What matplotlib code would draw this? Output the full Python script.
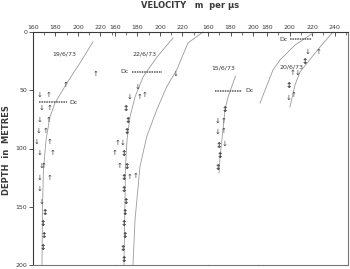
import matplotlib
matplotlib.use("Agg")
import matplotlib.pyplot as plt

# ---------------- data (velocity m/us, depth m) ----------------
dates = ["19/6/73", "22/6/73", "15/6/73", "20/6/73"]

# segment velocity ranges of the composite top scale
seg_xlim = [(160, 233), (160, 242.7), (160, 204.4), (172, 252)]

# theoretical curves
c1_v = [213.3, 201.8, 190.2, 179.6, 175.1, 171.6, 169.3, 168.4, 168.0]
c1_d = [8.6, 26.6, 43.8, 60.9, 72.9, 92.7, 118.4, 152.7, 200]
c2a_v = [211.6, 197.3, 184.9, 177.8, 173.3, 170.7, 169.3, 168.9, 168.0]
c2a_d = [5.1, 21.5, 38.6, 55.8, 72.9, 92.7, 115.8, 144.1, 200]
c2b_v = [238.2, 224.9, 214.8, 206.0, 197.1, 188.2, 182.2, 177.8, 176.0]
c2b_d = [0, 9.4, 32.6, 46.9, 66.9, 89.8, 115.6, 161.3, 200]
c3_v = [184.4, 177.8, 175.1, 173.3, 170.7, 169.8]
c3_d = [37.8, 55.8, 66.9, 84.0, 107.2, 121.0]
c4a_v = [220.9, 204.9, 191.6, 185.3, 173.8]
c4a_d = [0.9, 11.2, 24.0, 32.6, 61.0]
c4b_v = [238.7, 227.1, 216.4, 209.3, 204.9, 200.4]
c4b_d = [0, 12.9, 25.7, 34.3, 45.5, 64.4]

# measured points: down arrows, up arrows, double arrows
p1_dn_v = [165.6, 167.7, 166.2, 164.7, 162.7, 166.2, 167.7, 166.2, 166.2, 167.7]
p1_dn_d = [54, 65, 75.5, 85, 94, 104, 115, 125, 135, 145.6]
p1_up_v = [216, 189.3, 173.6, 174.5, 173.6, 170.7, 174.5, 177.5, 169.0, 174.5]
p1_up_d = [36, 45.5, 54, 65, 75.5, 85, 94, 104, 115, 125]
p1_bo_v = [170.7, 168.6, 169.2, 168.6]
p1_bo_d = [155, 164, 175, 185]

p2_dn_v = [214.2, 180.2, 172.7, 167.0]
p2_dn_d = [36, 46.8, 55.5, 95]
p2_up_v = [181.6, 186.0, 162.0, 160.0, 164.4, 173.3, 177.8]
p2_up_d = [55.5, 54.5, 95, 104, 115, 124.4, 124]
p2_bo_v = [169.5, 171.1, 170.4, 168.0, 170.4, 167.4, 168.0, 169.8, 168.9, 167.4, 168.9, 166.8, 168.0]
p2_bo_d = [66, 75.8, 85, 104, 115.6, 125, 135.6, 145.6, 155, 164.7, 175, 185.6, 195.6]

p3_dn_v = [168.6, 168.6, 174.8]
p3_dn_d = [76.1, 85.5, 96]
p3_up_v = [173.6, 173.6]
p3_up_d = [76.1, 84.7]
p3_bo_v = [175.1, 169.6, 170.7, 168.3]
p3_bo_d = [66.3, 97, 106.4, 116]

p4_dn_v = [216.2, 207.5, 198.9]
p4_dn_d = [16.9, 35.4, 56.9]
p4_up_v = [226.2, 202.5, 203.4]
p4_up_d = [16.9, 35.4, 54]
p4_bo_v = [213.8, 198.9]
p4_bo_d = [25.5, 45.5]

# critical depth Dc: depth, velocity span
dc_depth = [60.3, 34.0, 50.6, 6.3]
dc_v0 = [165.6, 175.0, 166.2, 200.4]
dc_v1 = [189.9, 201.6, 190.0, 219.7]

y_ticks = [0, 50, 100, 150, 200]

# ---------------- figure ----------------
W, H = 350, 269
fig = plt.figure(figsize=(W / 100, H / 100), dpi=100)
fig.patch.set_facecolor("white")

seg_px = [(33, 115), (115, 208), (208, 258), (258, 348)]
bot = 1 - 265 / H
top = 1 - 32 / H
axes = []
for i, (x0, x1) in enumerate(seg_px):
    ax = fig.add_axes([x0 / W, bot, (x1 - x0) / W, top - bot])
    ax.set_xlim(*seg_xlim[i])
    ax.set_ylim(200, 0)
    axes.append(ax)

ink = "#3a3a3a"
curve_c = "#9a9a9a"

for i, ax in enumerate(axes):
    for s in ("left", "right"):
        ax.spines[s].set_visible(False)
    ax.spines["top"].set_color(ink)
    ax.spines["bottom"].set_color("#777777")
    ax.spines["top"].set_linewidth(0.8)
    ax.spines["bottom"].set_linewidth(0.8)
    lo, hi = seg_xlim[i]
    majors = [v for v in range(160, 260, 20) if lo - 0.5 <= v <= hi - 3]
    minors = [v for v in range(170, 260, 20) if lo <= v <= hi - 1]
    ax.xaxis.tick_top()
    ax.set_xticks(majors)
    ax.set_xticklabels([str(v) for v in majors])
    ax.set_xticks(minors, minor=True)
    ax.tick_params(axis="x", which="major", direction="in", length=3, width=0.6,
                   color=ink, labelsize=4.5, pad=1.5, labelcolor=ink)
    ax.tick_params(axis="x", which="minor", direction="in", length=2, width=0.5, color=ink)
    ax.tick_params(axis="y", left=False, labelleft=False)
    ax.patch.set_alpha(0)

axes[0].spines["left"].set_visible(True)
axes[0].spines["left"].set_color(ink)
axes[0].spines["left"].set_linewidth(0.8)
axes[0].tick_params(axis="y", left=True, labelleft=True, direction="out", length=3,
                    width=0.6, color=ink, labelsize=4.5, pad=1, labelcolor=ink)
axes[0].set_yticks(y_ticks)
axes[0].set_yticklabels([str(t) for t in y_ticks])
axes[3].spines["right"].set_visible(True)
axes[3].spines["right"].set_color("#777777")
axes[3].spines["right"].set_linewidth(0.8)

curves = [
    [(c1_v, c1_d)],
    [(c2a_v, c2a_d), (c2b_v, c2b_d)],
    [(c3_v, c3_d)],
    [(c4a_v, c4a_d), (c4b_v, c4b_d)],
]
points = [
    (p1_dn_v, p1_dn_d, p1_up_v, p1_up_d, p1_bo_v, p1_bo_d),
    (p2_dn_v, p2_dn_d, p2_up_v, p2_up_d, p2_bo_v, p2_bo_d),
    (p3_dn_v, p3_dn_d, p3_up_v, p3_up_d, p3_bo_v, p3_bo_d),
    (p4_dn_v, p4_dn_d, p4_up_v, p4_up_d, p4_bo_v, p4_bo_d),
]
label_pos = [(187.6, 19), (186.7, 19), (173.3, 31), (202.2, 30)]
dc_label = [(192.5, "left"), (172.5, "right"), (193.0, "left"), (198.5, "right")]

for i, ax in enumerate(axes):
    for cv, cd in curves[i]:
        ax.plot(cv, cd, color=curve_c, lw=0.6, clip_on=False)
    dn_v, dn_d, up_v, up_d, bo_v, bo_d = points[i]
    for v, d in zip(dn_v, dn_d):
        ax.text(v, d, "\u2193", fontsize=5, color=ink, ha="center", va="center")
    for v, d in zip(up_v, up_d):
        ax.text(v, d, "\u2191", fontsize=5, color=ink, ha="center", va="center")
    for v, d in zip(bo_v, bo_d):
        ax.text(v, d, "\u2195", fontsize=5.5, color=ink, ha="center", va="center",
                fontweight="bold")
    ax.plot([dc_v0[i], dc_v1[i]], [dc_depth[i], dc_depth[i]], color="#555555",
            lw=1.1, ls=(0, (1, 0.6)))
    lx, ha = dc_label[i]
    ax.text(lx, dc_depth[i], "Dc", fontsize=4.5, color=ink, ha=ha, va="center")
    ax.text(label_pos[i][0], label_pos[i][1], dates[i], fontsize=4.5, color=ink,
            ha="center", va="center")

fig.text(190 / W, 1 - 6 / H, "VELOCITY   m  per \u00b5s", fontsize=6, fontweight="bold",
         color=ink, ha="center", va="center")
fig.text(7 / W, 1 - 150 / H, "DEPTH  in  METRES", fontsize=6, fontweight="bold",
         color=ink, ha="center", va="center", rotation=90)

fig.savefig("out.png", dpi=100, facecolor="white")
